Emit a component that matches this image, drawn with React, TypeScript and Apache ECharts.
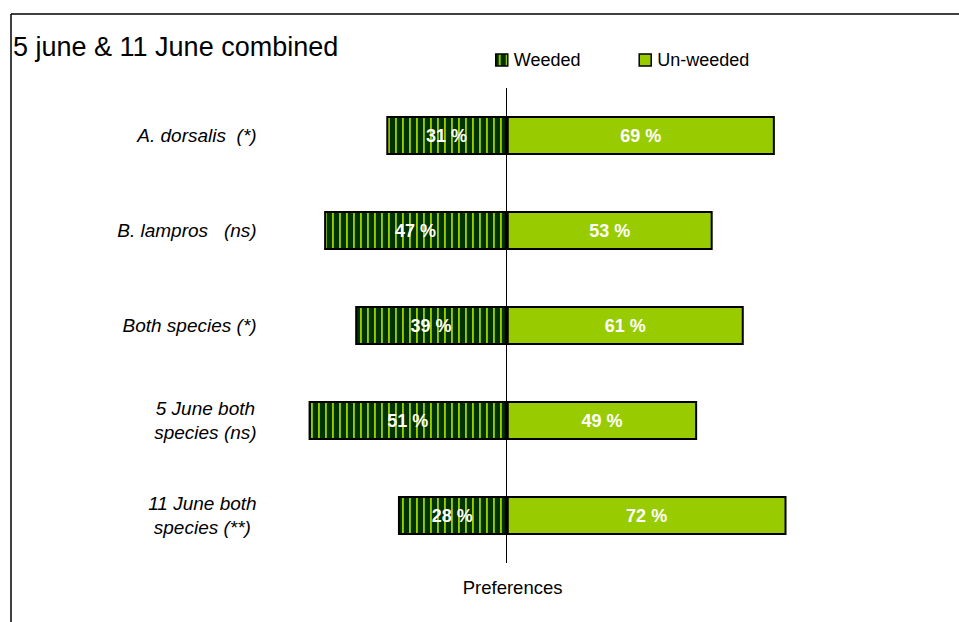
import React, { useEffect, useRef } from "react";
import * as echarts from "echarts";

const categories = [
  "A. dorsalis  (*)",
  "B. lampros   (ns)",
  "Both species (*)",
  "5 June both\nspecies (ns)",
  "11 June both\nspecies (**)",
];
const weeded = [31, 47, 39, 51, 28];
const unweeded = [69, 53, 61, 49, 72];
const seriesNames = ["Weeded", "Un-weeded"];
const titleText = "5 june & 11 June combined";
const axisName = "Preferences";

const FONT = "'Liberation Sans', Arial, Helvetica, sans-serif";

function makeStripe(): any {
  const c = document.createElement("canvas");
  c.width = 7;
  c.height = 4;
  const ctx = c.getContext("2d")!;
  ctx.fillStyle = "#003300";
  ctx.fillRect(0, 0, 7, 4);
  ctx.fillStyle = "#99cc00";
  ctx.fillRect(3, 0, 1, 4);
  ctx.fillStyle = "#86b800";
  ctx.fillRect(4, 0, 1, 4);
  return { image: c, repeat: "repeat" };
}

export default function App() {
  const ref = useRef<HTMLDivElement>(null);
  useEffect(() => {
    if (!ref.current) return;
    const chart = echarts.init(ref.current, undefined, { renderer: "svg" });
    const stripe = makeStripe();
    const labelCommon = {
      show: true,
      position: "inside",
      color: "#fff",
      fontWeight: "bold",
      fontSize: 18,
      fontFamily: FONT,
      formatter: (p: any) => Math.abs(p.value) + " %",
    };
    const catStyle = {
      fontSize: 19,
      fontStyle: "italic",
      color: "#000",
      fontFamily: FONT,
      lineHeight: 24,
    };
    chart.setOption({
      animation: false,
      backgroundColor: "#fff",
      title: {
        text: titleText,
        left: 13,
        top: 33,
        padding: 0,
        textStyle: { fontSize: 27, fontWeight: "normal", color: "#000", fontFamily: FONT },
      },
      legend: {
        data: seriesNames,
        left: 495,
        top: 51,
        padding: 0,
        itemWidth: 12,
        itemHeight: 12,
        itemGap: 58,
        icon: "rect",
        selectedMode: false,
        textStyle: { fontSize: 18, color: "#000", fontFamily: FONT, padding: [0, 0, 0, 1] },
        itemStyle: { borderColor: "#000", borderWidth: 1.5 },
      },
      grid: { left: 273.6, right: 141.4, top: 88, bottom: 59, containLabel: false },
      xAxis: {
        type: "value",
        min: -60,
        max: 80,
        axisLine: { show: false },
        axisTick: { show: false },
        axisLabel: { show: false },
        splitLine: { show: false },
        name: axisName,
        nameLocation: "middle",
        nameGap: 15,
        nameTextStyle: { fontSize: 18.5, color: "#000", fontFamily: FONT, padding: [0, 66, 0, 0] },
      },
      yAxis: {
        type: "category",
        data: categories,
        inverse: true,
        axisLine: { show: false },
        axisTick: { show: false },
        splitLine: { show: false },
        axisLabel: {
          margin: 17,
          align: "right",
          ...catStyle,
          formatter: (v: string) =>
            v
              .split("\n")
              .map((s) => "{c|" + s + "}")
              .join("\n"),
          rich: { c: { ...catStyle, align: "center" } },
        },
      },
      series: [
        {
          name: seriesNames[0],
          type: "bar",
          stack: "pref",
          barWidth: 39,
          data: weeded.map((v) => -v),
          itemStyle: { color: stripe, borderColor: "#000", borderWidth: 2 },
          label: labelCommon,
          markLine: {
            silent: true,
            symbol: "none",
            label: { show: false },
            lineStyle: { color: "#000", width: 1, type: "solid" },
            data: [{ xAxis: 0 }],
            z: 1,
          },
        },
        {
          name: seriesNames[1],
          type: "bar",
          stack: "pref",
          barWidth: 39,
          data: unweeded,
          itemStyle: { color: "#99cc00", borderColor: "#000", borderWidth: 2 },
          label: labelCommon,
        },
      ],
      graphic: [
        {
          type: "line",
          shape: { x1: 11, y1: 14, x2: 959, y2: 14 },
          style: { stroke: "#000", lineWidth: 1.5 },
          silent: true,
        },
        {
          type: "line",
          shape: { x1: 11, y1: 14, x2: 11, y2: 622 },
          style: { stroke: "#000", lineWidth: 1.5 },
          silent: true,
        },
      ],
    });
    return () => chart.dispose();
  }, []);
  return (
    <div
      ref={ref}
      style={{ position: "absolute", left: 0, top: 0, width: 959, height: 622 }}
    />
  );
}
